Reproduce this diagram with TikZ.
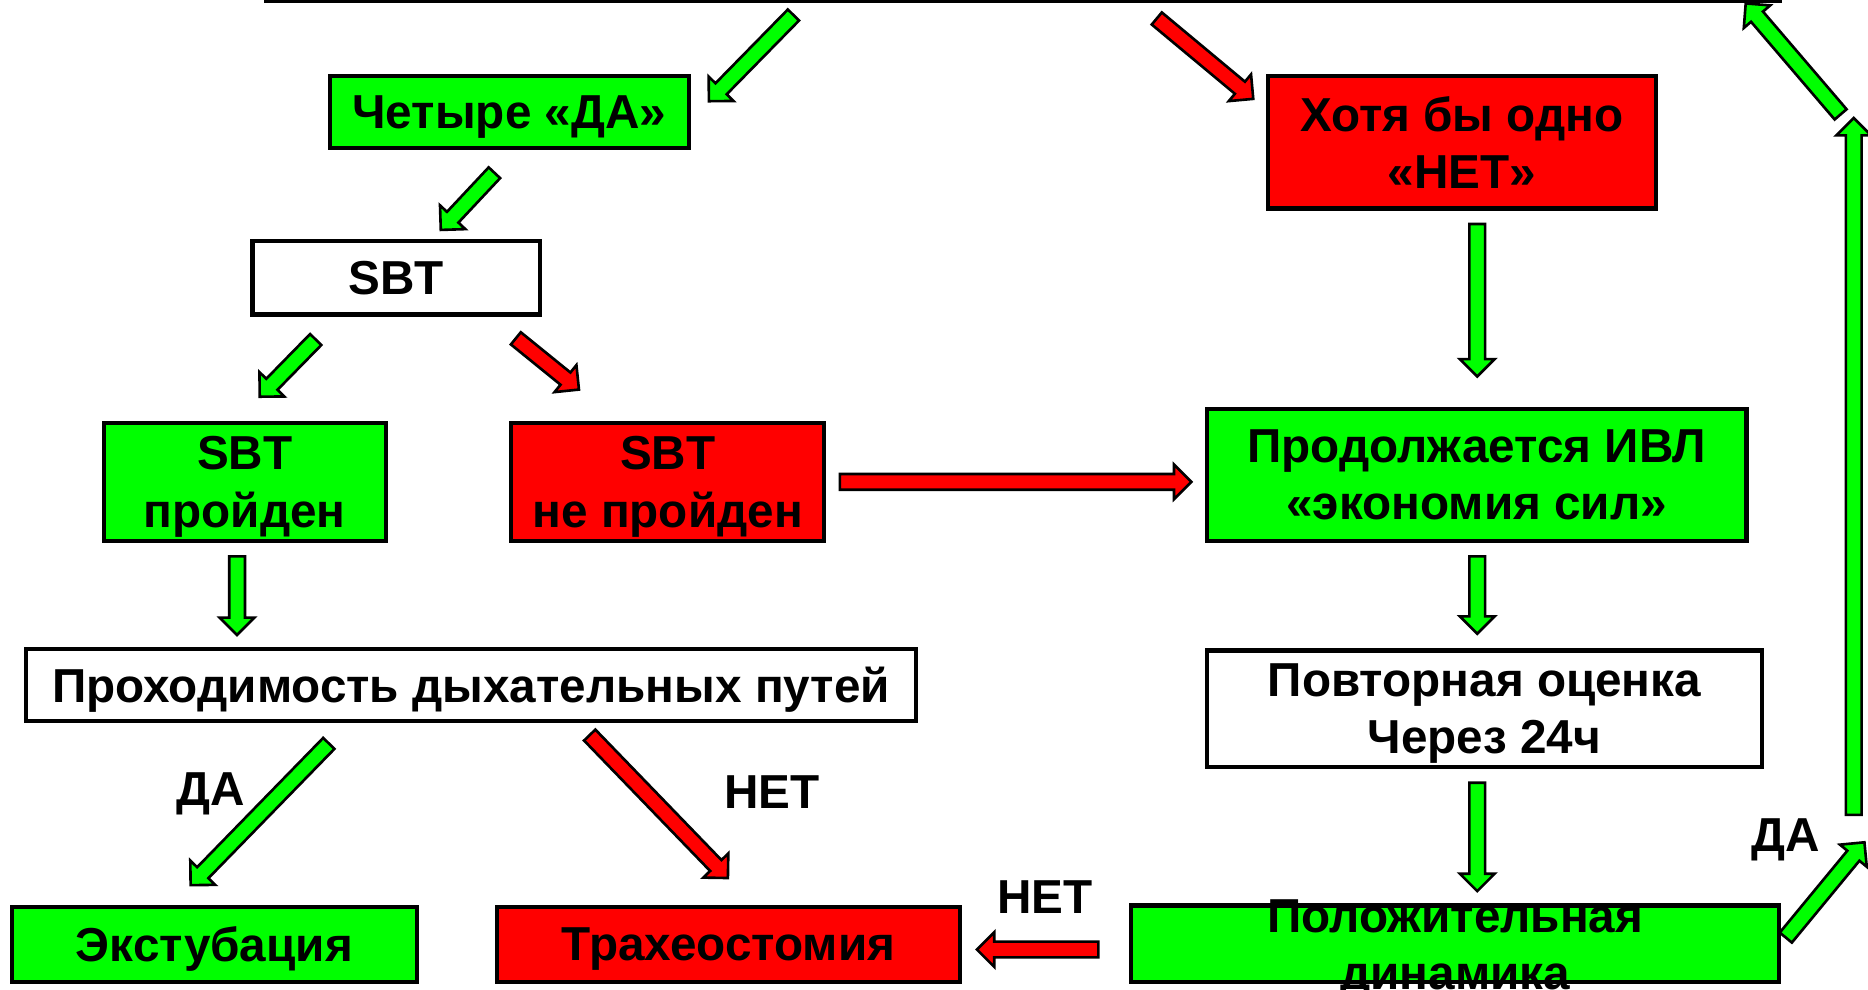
\documentclass[tikz,border=0pt]{standalone}
\usepackage{fontspec}
\setmainfont{Liberation Sans}
\usetikzlibrary{shapes.arrows,calc}
\definecolor{gr}{RGB}{0,255,0}
\definecolor{rd}{RGB}{255,0,0}
\tikzset{
  box/.style={draw=black, line width=3.5pt, inner sep=0pt, outer sep=0pt, align=center,
    text depth=0pt, font=\fontsize{40}{48}\selectfont\bfseries},
  gbox/.style={box, fill=gr},
  rbox/.style={box, fill=rd},
  wbox/.style={box, fill=white},
  lab/.style={inner sep=0pt, font=\fontsize{40}{48}\selectfont\bfseries},
  barrow/.style={single arrow, draw=black, line width=2.2pt, inner sep=0pt, outer sep=0pt,
    inner ysep=5.5pt, single arrow head extend=8pt, single arrow tip angle=90,
    minimum width=1pt},
}
\newcommand\blockarrow[4]{% colour, name, from, to
  \path let \p1=($(#4)-(#3)$), \n1={veclen(\x1,\y1)}, \n2={atan2(\y1,\x1)} in
    node[barrow, fill=#1, minimum height=\n1, rotate=\n2, anchor=tail] (#2) at (#3) {};}
\begin{document}
\begin{tikzpicture}[x=1pt,y=-1pt]
\useasboundingbox (0,0) rectangle (1568,831);
\clip (0,0) rectangle (1568,831);
% top line
\coordinate (topL) at (222,1.2);
\coordinate (topR) at (1496,1.2);
\draw[line width=2.5pt] (topL) -- (topR);
% boxes
\node[gbox, minimum width=301, minimum height=60] (four) at (427.5,94) {Четыре «ДА»};
\node[rbox, minimum width=326, minimum height=111] (hotya) at (1227,119.5) {Хотя бы одно\\«НЕТ»};
\node[wbox, minimum width=241, minimum height=62] (sbt) at (332.5,233) {SBT};
\node[gbox, minimum width=237, minimum height=99] (sbtok) at (205.5,404.5) {SBT\\пройден};
\node[rbox, minimum width=263, minimum height=99] (sbtfail) at (560.5,404.5) {SBT\\не пройден};
\node[gbox, minimum width=453, minimum height=111] (ivl) at (1239.5,398.5) {Продолжается ИВЛ\\«экономия сил»};
\node[wbox, minimum width=747, minimum height=60] (airway) at (395.5,575) {Проходимость дыхательных путей};
\node[wbox, minimum width=466, minimum height=98] (repeat) at (1246,595) {Повторная оценка\\Через 24ч};
\node[gbox, minimum width=340, minimum height=63] (extub) at (180,792.5) {Экстубация};
\node[rbox, minimum width=389, minimum height=63] (trach) at (611.5,792.5) {Трахеостомия};
\node[gbox, minimum width=544, minimum height=64] (posit) at (1221,792) {};
\node[lab, align=center] (posittext) at (1221.5,797) {Положительная\\динамика};
% labels
\node[lab] (lda1) at (177,666) {ДА};
\node[lab] (lnet1) at (648,665) {НЕТ};
\node[lab] (lnet2) at (877,753) {НЕТ};
\node[lab] (lda2) at (1499,705) {ДА};
% arrow end points
\coordinate (a1s) at (666,12.6);   \coordinate (a1e) at (595,85);
\coordinate (a2s) at (415,145);    \coordinate (a2e) at (370,193);
\coordinate (a3s) at (971,15.5);   \coordinate (a3e) at (1052,83);
\coordinate (a4s) at (265,285);    \coordinate (a4e) at (218,333);
\coordinate (a5s) at (433,284);    \coordinate (a5e) at (486,327);
\coordinate (a6s) at (199,467);    \coordinate (a6e) at (199,533);
\coordinate (a7s) at (705,404.5);  \coordinate (a7e) at (1000,404.5);
\coordinate (a8s) at (1240,188);   \coordinate (a8e) at (1240,316);
\coordinate (a9s) at (1240,467);   \coordinate (a9e) at (1240,532);
\coordinate (a10s) at (1240,657);  \coordinate (a10e) at (1240,748);
\coordinate (a11s) at (276,624);   \coordinate (a11e) at (160,743);
\coordinate (a12s) at (495,617);   \coordinate (a12e) at (611,737);
\coordinate (a13s) at (922,797);   \coordinate (a13e) at (820,797);
\coordinate (a14s) at (1499,787);  \coordinate (a14e) at (1565,707);
\coordinate (a15s) at (1556,684);  \coordinate (a15e) at (1556,99);
\coordinate (a16s) at (1545,96);   \coordinate (a16e) at (1465,2.5);
% arrows
\blockarrow{gr}{ar1}{a1s}{a1e}
\blockarrow{gr}{ar2}{a2s}{a2e}
\blockarrow{rd}{ar3}{a3s}{a3e}
\blockarrow{gr}{ar4}{a4s}{a4e}
\blockarrow{rd}{ar5}{a5s}{a5e}
\blockarrow{gr}{ar6}{a6s}{a6e}
\blockarrow{rd}{ar7}{a7s}{a7e}
\blockarrow{gr}{ar8}{a8s}{a8e}
\blockarrow{gr}{ar9}{a9s}{a9e}
\blockarrow{gr}{ar10}{a10s}{a10e}
\blockarrow{gr}{ar11}{a11s}{a11e}
\blockarrow{rd}{ar12}{a12s}{a12e}
\blockarrow{rd}{ar13}{a13s}{a13e}
\blockarrow{gr}{ar14}{a14s}{a14e}
\blockarrow{gr}{ar15}{a15s}{a15e}
\blockarrow{gr}{ar16}{a16s}{a16e}
\end{tikzpicture}
\end{document}
